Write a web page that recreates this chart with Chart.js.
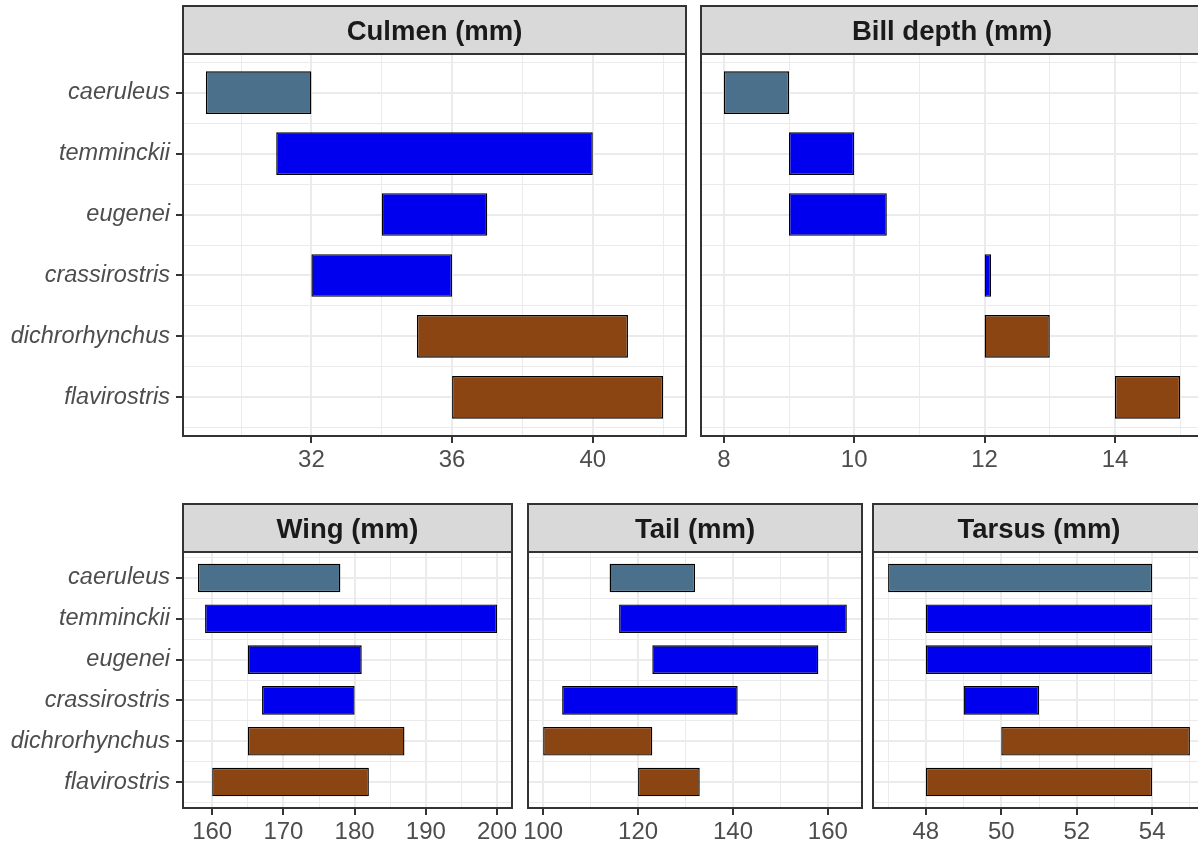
<!DOCTYPE html>
<html lang="en">
<head>
<meta charset="UTF-8">
<title>Bill and body measurements</title>
<script src="https://cdn.jsdelivr.net/npm/chart.js"></script>
<style>
    body {
        margin: 0;
        background: #ffffff;
        overflow: hidden;
        width: 1198px;
        height: 846px;
        position: relative;
    }
    canvas {
        position: absolute;
    }
</style>
</head>
<body>
<canvas id="culmenChart"></canvas>
<canvas id="billChart"></canvas>
<canvas id="wingChart"></canvas>
<canvas id="tailChart"></canvas>
<canvas id="tarsusChart"></canvas>

<script>
    // species, top to bottom
    const species = ['caeruleus', 'temminckii', 'eugenei', 'crassirostris', 'dichrorhynchus', 'flavirostris'];

    // ranges (min / max) per measurement
    const culmenLow = [29, 31, 34, 32, 35, 36];
    const culmenHigh = [32, 40, 37, 36, 41, 42];
    const culmenTicks = [32, 36, 40];

    const billLow = [8, 9, 9, 12, 12, 14];
    const billHigh = [9, 10, 10.5, 12.1, 13, 15];
    const billTicks = [8, 10, 12, 14];

    const wingLow = [158, 159, 165, 167, 165, 160];
    const wingHigh = [178, 200, 181, 180, 187, 182];
    const wingTicks = [160, 170, 180, 190, 200];

    const tailLow = [114, 116, 123, 104, 100, 120];
    const tailHigh = [132, 164, 158, 141, 123, 133];
    const tailTicks = [100, 120, 140, 160];

    const tarsusLow = [47, 48, 48, 49, 50, 48];
    const tarsusHigh = [54, 54, 54, 51, 55, 54];
    const tarsusTicks = [48, 50, 52, 54];

    // styling
    const barColors = ['#4A708B', '#0000EE', '#0000EE', '#0000EE', '#8B4513', '#8B4513'];
    const FONT = "'Liberation Sans', Arial, sans-serif";
    const STRIP_H = 48;
    const HEAD_H = 54;      // space above the panel (gap + strip)
    const AXIS_H = 50;      // space below the panel for x labels
    const BAR_HALF = 0.35;

    const panelFrame = {
        id: 'panelFrame',
        beforeDraw(chart) {
            const a = chart.chartArea;
            const ctx = chart.ctx;
            ctx.save();
            ctx.fillStyle = '#D9D9D9';
            ctx.fillRect(a.left, a.top - STRIP_H, a.right - a.left, STRIP_H);
            ctx.restore();
        },
        afterDraw(chart) {
            const a = chart.chartArea;
            const ctx = chart.ctx;
            ctx.save();
            ctx.strokeStyle = '#333333';
            ctx.lineWidth = 2;
            ctx.strokeRect(a.left, a.top - STRIP_H, a.right - a.left, STRIP_H);
            ctx.strokeRect(a.left, a.top, a.right - a.left, a.bottom - a.top);
            ctx.restore();
        }
    };

    function minorsFor(ticks, lo, hi) {
        const step = ticks[1] - ticks[0];
        const out = [];
        for (let v = ticks[0] - step / 2; v <= hi; v += step) {
            if (v >= lo) out.push(v);
        }
        return out;
    }

    function makePanel(id, p) {
        const lo = Math.min(...p.low), hi = Math.max(...p.high);
        const xMin = lo - 0.05 * (hi - lo);
        const xMax = hi + 0.05 * (hi - lo);
        const yLo = -BAR_HALF, yHi = species.length - 1 + BAR_HALF;
        const yMin = yLo - 0.05 * (yHi - yLo);
        const yMax = yHi + 0.05 * (yHi - yLo);

        const leftExtra = p.showY ? 183 : 12;
        const rightExtra = 26;
        const canvas = document.getElementById(id);
        canvas.width = leftExtra + (p.right - p.left) + rightExtra;
        canvas.height = HEAD_H + (p.bottom - p.top) + AXIS_H;
        canvas.style.left = (p.left - leftExtra) + 'px';
        canvas.style.top = (p.top - HEAD_H) + 'px';

        const xMinors = minorsFor(p.ticks, xMin, xMax);
        const yMinors = [];
        for (let v = -0.5; v <= species.length - 0.5; v += 1) yMinors.push(v);

        return new Chart(canvas, {
            type: 'bar',
            data: {
                datasets: [{
                    data: species.map((s, i) => ({ y: i, x: [p.low[i], p.high[i]] })),
                    backgroundColor: barColors,
                    borderColor: '#000000',
                    borderWidth: 1.4,
                    borderSkipped: false,
                    categoryPercentage: 1,
                    barPercentage: 0.7
                }]
            },
            options: {
                indexAxis: 'y',
                responsive: false,
                animation: false,
                events: [],
                layout: {
                    padding: { left: p.showY ? 0 : leftExtra, right: rightExtra, top: 0, bottom: 0 }
                },
                plugins: {
                    legend: { display: false },
                    tooltip: { enabled: false },
                    title: {
                        display: true,
                        text: p.title,
                        fullSize: false,
                        color: '#1A1A1A',
                        font: { family: FONT, size: 27.5, weight: 'bold', lineHeight: 1.2 },
                        padding: { top: 16, bottom: 5 }
                    }
                },
                scales: {
                    x: {
                        type: 'linear',
                        position: 'bottom',
                        min: xMin,
                        max: xMax,
                        offset: false,
                        afterBuildTicks: s => { s.ticks = p.ticks.map(v => ({ value: v })); },
                        afterFit: s => { s.height = AXIS_H; },
                        border: { display: false },
                        grid: { offset: false, color: '#EBEBEB', lineWidth: 2, tickColor: '#333333', tickLength: 7, tickWidth: 2 },
                        ticks: {
                            color: '#4D4D4D',
                            font: { family: FONT, size: 24 },
                            padding: 3,
                            autoSkip: false,
                            maxRotation: 0
                        }
                    },
                    xMinor: {
                        type: 'linear',
                        position: 'bottom',
                        min: xMin,
                        max: xMax,
                        offset: false,
                        afterBuildTicks: s => { s.ticks = xMinors.map(v => ({ value: v })); },
                        afterFit: s => { s.height = 0; },
                        border: { display: false },
                        grid: { offset: false, color: '#EBEBEB', lineWidth: 1, drawTicks: false },
                        ticks: { display: false }
                    },
                    y: {
                        type: 'linear',
                        position: 'left',
                        reverse: true,
                        offset: false,
                        min: yMin,
                        max: yMax,
                        afterBuildTicks: s => { s.ticks = species.map((sp, i) => ({ value: i })); },
                        afterFit: s => { s.width = p.showY ? leftExtra : 0; },
                        border: { display: false },
                        grid: {
                            offset: false, color: '#EBEBEB', lineWidth: 2,
                            drawTicks: p.showY, tickColor: '#333333', tickLength: 7, tickWidth: 2
                        },
                        ticks: {
                            display: p.showY,
                            callback: v => species[v],
                            color: '#4D4D4D',
                            font: { family: FONT, size: 23.5, style: 'italic' },
                            padding: 6,
                            autoSkip: false
                        }
                    },
                    yMinor: {
                        type: 'linear',
                        position: 'left',
                        reverse: true,
                        offset: false,
                        min: yMin,
                        max: yMax,
                        afterBuildTicks: s => { s.ticks = yMinors.map(v => ({ value: v })); },
                        afterFit: s => { s.width = 0; },
                        border: { display: false },
                        grid: { offset: false, color: '#EBEBEB', lineWidth: 1, drawTicks: false },
                        ticks: { display: false }
                    }
                }
            },
            plugins: [panelFrame]
        });
    }

    makePanel('culmenChart', {
        title: 'Culmen (mm)', low: culmenLow, high: culmenHigh, ticks: culmenTicks,
        left: 183, right: 686, top: 54, bottom: 436, showY: true
    });
    makePanel('billChart', {
        title: 'Bill depth (mm)', low: billLow, high: billHigh, ticks: billTicks,
        left: 701, right: 1203, top: 54, bottom: 436, showY: false
    });
    makePanel('wingChart', {
        title: 'Wing (mm)', low: wingLow, high: wingHigh, ticks: wingTicks,
        left: 183, right: 512, top: 552, bottom: 808, showY: true
    });
    makePanel('tailChart', {
        title: 'Tail (mm)', low: tailLow, high: tailHigh, ticks: tailTicks,
        left: 528, right: 862, top: 552, bottom: 808, showY: false
    });
    makePanel('tarsusChart', {
        title: 'Tarsus (mm)', low: tarsusLow, high: tarsusHigh, ticks: tarsusTicks,
        left: 873, right: 1205, top: 552, bottom: 808, showY: false
    });
</script>
</body>
</html>
